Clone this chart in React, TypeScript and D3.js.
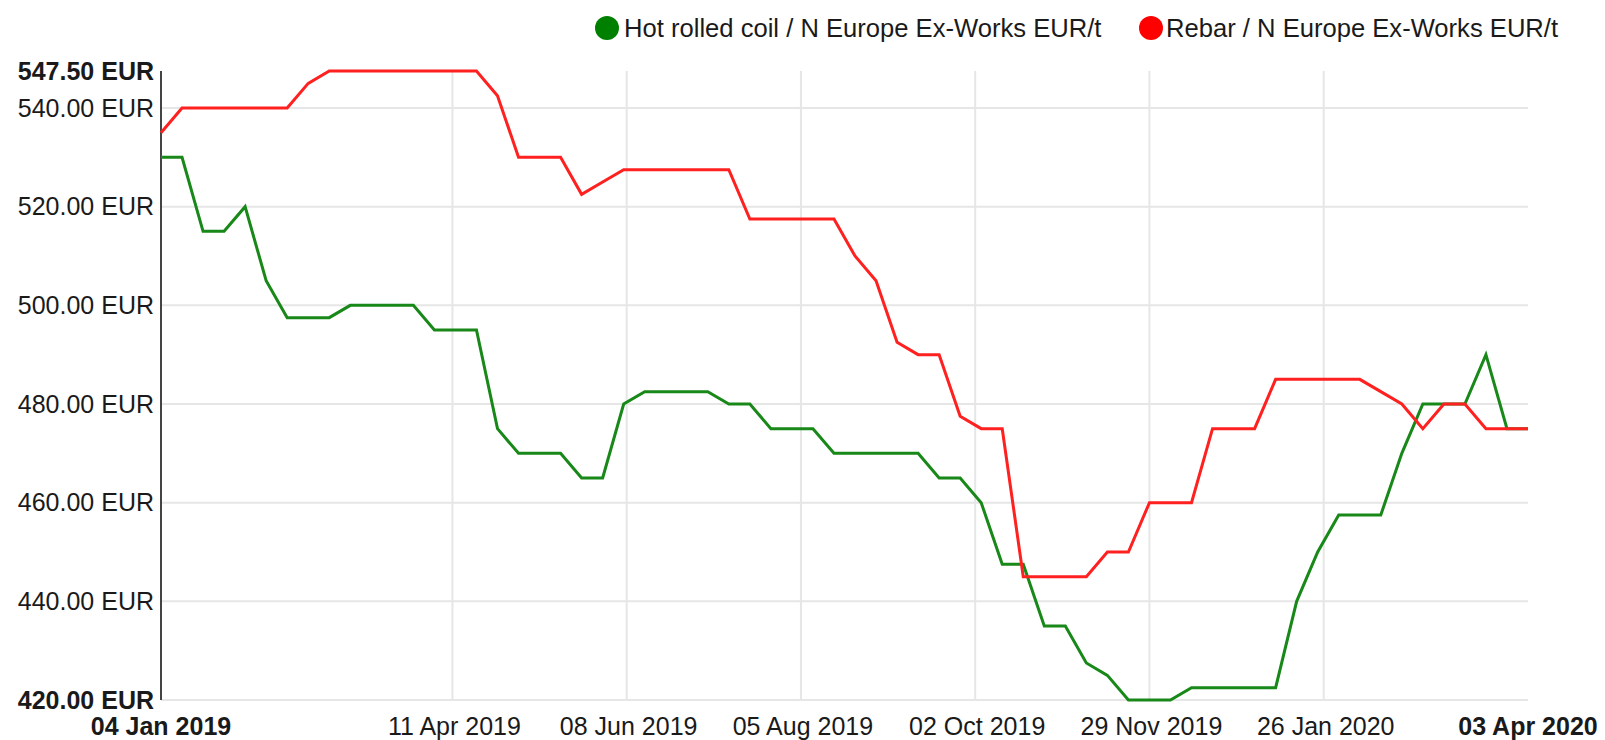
import React from 'react';
import * as d3 from 'd3';

// weekly prices, first week 04 Jan 2019, last week 03 Apr 2020
const startDate = '04 Jan 2019';
const hrcValues = [
    530, 530, 515, 515, 520, 505, 497.5, 497.5, 497.5, 500,
    500, 500, 500, 495, 495, 495, 475, 470, 470, 470,
    465, 465, 480, 482.5, 482.5, 482.5, 482.5, 480, 480, 475,
    475, 475, 470, 470, 470, 470, 470, 465, 465, 460,
    447.5, 447.5, 435, 435, 427.5, 425, 420, 420, 420, 422.5,
    422.5, 422.5, 422.5, 422.5, 440, 450, 457.5, 457.5, 457.5, 470,
    480, 480, 480, 490, 475, 475,
];
const rebarValues = [
    535, 540, 540, 540, 540, 540, 540, 545, 547.5, 547.5,
    547.5, 547.5, 547.5, 547.5, 547.5, 547.5, 542.5, 530, 530, 530,
    522.5, 525, 527.5, 527.5, 527.5, 527.5, 527.5, 527.5, 517.5, 517.5,
    517.5, 517.5, 517.5, 510, 505, 492.5, 490, 490, 477.5, 475,
    475, 445, 445, 445, 445, 450, 450, 460, 460, 460,
    475, 475, 475, 485, 485, 485, 485, 485, 482.5, 480,
    475, 480, 480, 475, 475, 475,
];
const seriesNames = ['Hot rolled coil / N Europe Ex-Works EUR/t', 'Rebar / N Europe Ex-Works EUR/t'];
const xTickLabels = ['11 Apr 2019', '08 Jun 2019', '05 Aug 2019', '02 Oct 2019', '29 Nov 2019', '26 Jan 2020'];
const yTicks = [440, 460, 480, 500, 520, 540];
const yMin = 420;
const yMax = 547.5;

const width = 1605;
const height = 740;
const margin = { top: 71, right: 77, bottom: 40, left: 161 };
const font = '"Liberation Sans", Arial, sans-serif';
const green = '#188818';
const red = '#ff2020';

export default function App() {
    const parse = d3.timeParse('%d %b %Y');
    const start = parse(startDate) as Date;
    const dates = hrcValues.map((_, i) => d3.timeDay.offset(start, i * 7));
    const lastDate = dates[dates.length - 1];
    const fmt = d3.timeFormat('%d %b %Y');

    const xScale = d3.scaleTime()
        .domain([start, lastDate])
        .range([margin.left, width - margin.right]);
    const yScale = d3.scaleLinear()
        .domain([yMin, yMax])
        .range([height - margin.bottom, margin.top]);

    const line = d3.line<number>()
        .x((_, i) => xScale(dates[i]))
        .y(d => yScale(d));

    const yLabel = (v: number) => `${d3.format('.2f')(v)} EUR`;
    const x0 = xScale.range()[0];
    const x1 = xScale.range()[1];
    const yBottom = yScale(yMin);
    const yTop = yScale(yMax);

    return (
        <svg
            width={width}
            height={height}
            style={{ position: 'absolute', left: 0, top: 0, background: '#fff' }}
            fontFamily={font}
        >
            {/* legend */}
            <g fontSize="25.6" fill="#1a1a1a">
                <circle cx={607} cy={28} r={12} fill="#008000" />
                <text x={624} y={28} dy="0.35em">{seriesNames[0]}</text>
                <circle cx={1151} cy={28} r={12} fill="#ff0000" />
                <text x={1166} y={28} dy="0.35em">{seriesNames[1]}</text>
            </g>

            {/* horizontal grid */}
            {[yMin, ...yTicks].map(t => (
                <line key={t} x1={x0} x2={x1} y1={yScale(t)} y2={yScale(t)} stroke="#e6e6e6" strokeWidth="2" />
            ))}
            {/* vertical grid */}
            {xTickLabels.map(l => {
                const x = xScale(parse(l) as Date);
                return <line key={l} x1={x} x2={x} y1={yTop} y2={yBottom} stroke="#e6e6e6" strokeWidth="2" />;
            })}

            {/* y axis */}
            <line x1={x0} x2={x0} y1={yTop} y2={yBottom} stroke="#444" strokeWidth="2" />
            <g fontSize="25" fill="#1a1a1a" textAnchor="end">
                {yTicks.map(t => (
                    <text key={t} x={x0 - 7} y={yScale(t)} dy="0.35em">{yLabel(t)}</text>
                ))}
                <text x={x0 - 7} y={yTop} dy="0.35em" fontWeight="bold">{yLabel(yMax)}</text>
                <text x={x0 - 7} y={yBottom} dy="0.35em" fontWeight="bold">{yLabel(yMin)}</text>
            </g>

            {/* x labels */}
            <g fontSize="25" fill="#1a1a1a" textAnchor="middle">
                {xTickLabels.map(l => (
                    <text key={l} x={xScale(parse(l) as Date) + 2} y={735}>{l}</text>
                ))}
                <text x={xScale(start)} y={735} fontWeight="bold">{fmt(start)}</text>
                <text x={xScale(lastDate)} y={735} fontWeight="bold">{fmt(lastDate)}</text>
            </g>

            {/* series */}
            <path d={line(hrcValues) ?? ''} fill="none" stroke={green} strokeWidth="3" strokeLinejoin="miter" />
            <path d={line(rebarValues) ?? ''} fill="none" stroke={red} strokeWidth="3" strokeLinejoin="miter" />
        </svg>
    );
}
